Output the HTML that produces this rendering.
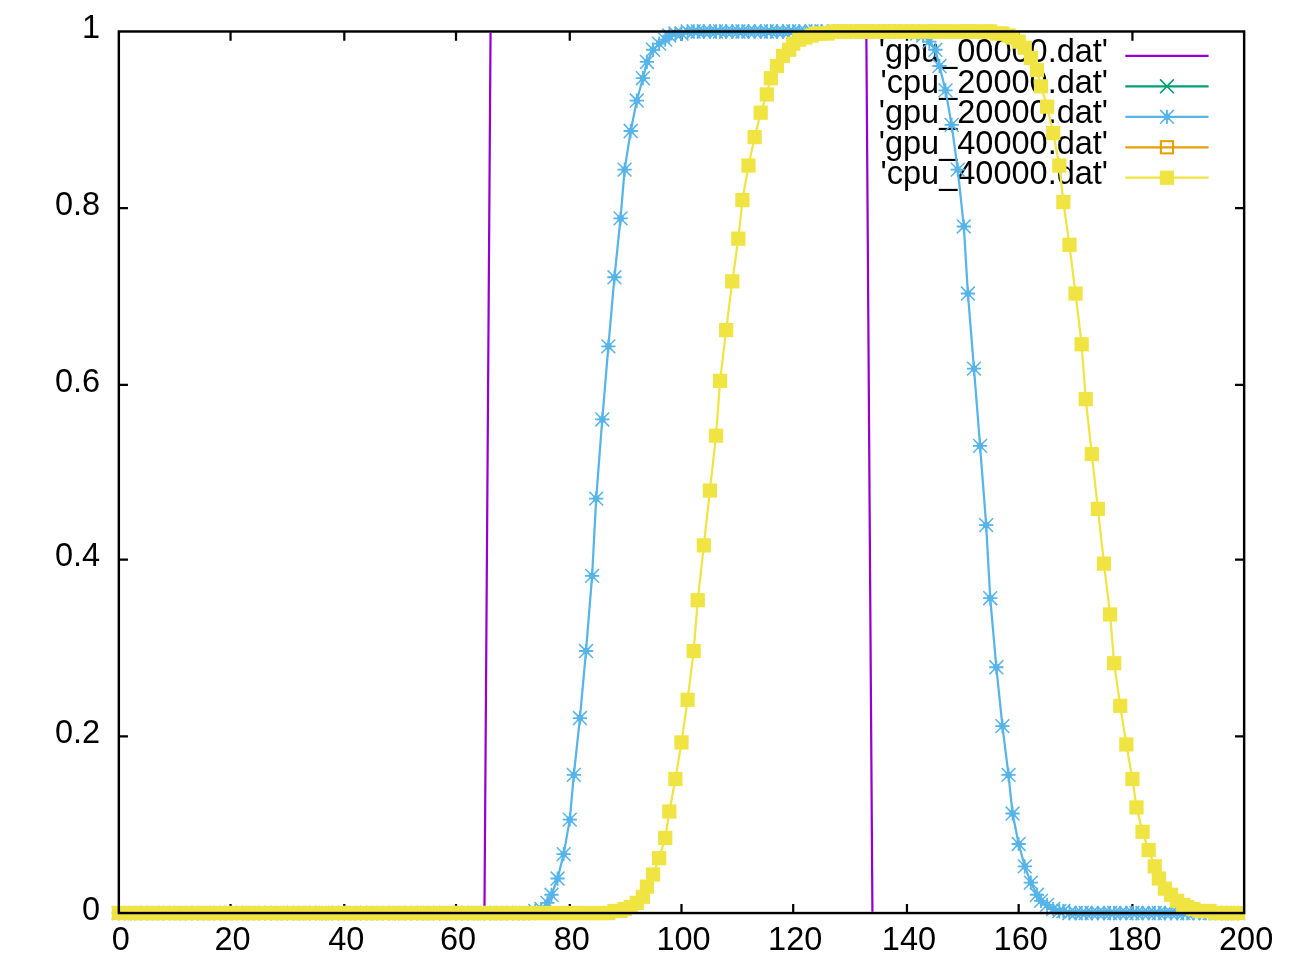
<!DOCTYPE html>
<html lang="en"><head><meta charset="utf-8"><title>plot</title>
<style>
html,body{margin:0;padding:0;background:#fff;}
body{width:1300px;height:975px;overflow:hidden;}
svg{display:block;position:absolute;left:0;top:0;filter:blur(0.45px);}
text{font-family:"Liberation Sans",Arial,sans-serif;font-size:16px;fill:#000;}
.tk{stroke:#000;stroke-width:1.1;fill:none;}
.bd{stroke:#000;stroke-width:1.2;fill:none;}
.ln{fill:none;stroke-width:1.1;stroke-linejoin:round;}
</style></head><body>
<svg width="1300" height="975" viewBox="0 0 640 480">
<defs>
<g id="sq"><rect x="-3.5" y="-3.5" width="7" height="7" fill="#f0e442"/></g>
<g id="st" stroke="#56b4e9" fill="none"><path d="M-3.5,0H3.5M0,-3.5V3.5" stroke-width="0.9"/><path d="M-3.4,-3.4L3.4,3.4M-3.4,3.4L3.4,-3.4" stroke-width="0.75"/><rect x="-1.5" y="-1.5" width="3" height="3" fill="#56b4e9" stroke="none"/></g>
<clipPath id="cp"><rect x="0" y="16.1" width="640" height="432.8"/></clipPath>
</defs>
<rect x="0" y="0" width="640" height="480" fill="#fff"/>
<path class="tk" d="M113.5,449.5V445M113.5,15.5V20M169.5,449.5V445M169.5,15.5V20M224.5,449.5V445M224.5,15.5V20M280.5,449.5V445M280.5,15.5V20M335.5,449.5V445M335.5,15.5V20M390.5,449.5V445M390.5,15.5V20M446.5,449.5V445M446.5,15.5V20M501.5,449.5V445M501.5,15.5V20M557.5,449.5V445M557.5,15.5V20M58.5,362.5H63M612.5,362.5H608M58.5,275.5H63M612.5,275.5H608M58.5,189.5H63M612.5,189.5H608M58.5,102.5H63M612.5,102.5H608"/>
<text x="49.3" y="452.8" text-anchor="end">0</text>
<text x="49.3" y="365.8" text-anchor="end">0.2</text>
<text x="49.3" y="278.8" text-anchor="end">0.4</text>
<text x="49.3" y="192.8" text-anchor="end">0.6</text>
<text x="49.3" y="105.8" text-anchor="end">0.8</text>
<text x="49.3" y="18.8" text-anchor="end">1</text>
<text x="59.5" y="467.9" text-anchor="middle">0</text>
<text x="114.5" y="467.9" text-anchor="middle">20</text>
<text x="170.5" y="467.9" text-anchor="middle">40</text>
<text x="225.5" y="467.9" text-anchor="middle">60</text>
<text x="281.5" y="467.9" text-anchor="middle">80</text>
<text x="336.5" y="467.9" text-anchor="middle">100</text>
<text x="391.5" y="467.9" text-anchor="middle">120</text>
<text x="447.5" y="467.9" text-anchor="middle">140</text>
<text x="502.5" y="467.9" text-anchor="middle">160</text>
<text x="558.5" y="467.9" text-anchor="middle">180</text>
<text x="613.5" y="467.9" text-anchor="middle">200</text>
<text x="545.5" y="30.6" text-anchor="end">'gpu_00000.dat'</text>
<text x="545.5" y="45.6" text-anchor="end">'cpu_20000.dat'</text>
<text x="545.5" y="60.6" text-anchor="end">'gpu_20000.dat'</text>
<text x="545.5" y="75.6" text-anchor="end">'gpu_40000.dat'</text>
<text x="545.5" y="90.6" text-anchor="end">'cpu_40000.dat'</text>
<path class="ln" stroke="#9400d3" d="M554,27.5 H595"/>
<path class="ln" clip-path="url(#cp)" stroke="#9400d3" d="M58.5,449.5L61.5,449.5L64.5,449.5L66.5,449.5L69.5,449.5L72.5,449.5L75.5,449.5L77.5,449.5L80.5,449.5L83.5,449.5L86.5,449.5L88.5,449.5L91.5,449.5L94.5,449.5L97.5,449.5L100.5,449.5L102.5,449.5L105.5,449.5L108.5,449.5L111.5,449.5L113.5,449.5L116.5,449.5L119.5,449.5L122.5,449.5L124.5,449.5L127.5,449.5L130.5,449.5L133.5,449.5L136.5,449.5L138.5,449.5L141.5,449.5L144.5,449.5L147.5,449.5L149.5,449.5L152.5,449.5L155.5,449.5L158.5,449.5L160.5,449.5L163.5,449.5L166.5,449.5L169.5,449.5L172.5,449.5L174.5,449.5L177.5,449.5L180.5,449.5L183.5,449.5L185.5,449.5L188.5,449.5L191.5,449.5L194.5,449.5L196.5,449.5L199.5,449.5L202.5,449.5L205.5,449.5L208.5,449.5L210.5,449.5L213.5,449.5L216.5,449.5L219.5,449.5L221.5,449.5L224.5,449.5L227.5,449.5L230.5,449.5L233.5,449.5L235.5,449.5L238.5,449.5L241.5,15.5L244.5,15.5L246.5,15.5L249.5,15.5L252.5,15.5L255.5,15.5L257.5,15.5L260.5,15.5L263.5,15.5L266.5,15.5L269.5,15.5L271.5,15.5L274.5,15.5L277.5,15.5L280.5,15.5L282.5,15.5L285.5,15.5L288.5,15.5L291.5,15.5L293.5,15.5L296.5,15.5L299.5,15.5L302.5,15.5L305.5,15.5L307.5,15.5L310.5,15.5L313.5,15.5L316.5,15.5L318.5,15.5L321.5,15.5L324.5,15.5L327.5,15.5L329.5,15.5L332.5,15.5L335.5,15.5L338.5,15.5L341.5,15.5L343.5,15.5L346.5,15.5L349.5,15.5L352.5,15.5L354.5,15.5L357.5,15.5L360.5,15.5L363.5,15.5L365.5,15.5L368.5,15.5L371.5,15.5L374.5,15.5L377.5,15.5L379.5,15.5L382.5,15.5L385.5,15.5L388.5,15.5L390.5,15.5L393.5,15.5L396.5,15.5L399.5,15.5L401.5,15.5L404.5,15.5L407.5,15.5L410.5,15.5L413.5,15.5L415.5,15.5L418.5,15.5L421.5,15.5L424.5,15.5L426.5,15.5L429.5,449.5L432.5,449.5L435.5,449.5L437.5,449.5L440.5,449.5L443.5,449.5L446.5,449.5L449.5,449.5L451.5,449.5L454.5,449.5L457.5,449.5L460.5,449.5L462.5,449.5L465.5,449.5L468.5,449.5L471.5,449.5L474.5,449.5L476.5,449.5L479.5,449.5L482.5,449.5L485.5,449.5L487.5,449.5L490.5,449.5L493.5,449.5L496.5,449.5L498.5,449.5L501.5,449.5L504.5,449.5L507.5,449.5L510.5,449.5L512.5,449.5L515.5,449.5L518.5,449.5L521.5,449.5L523.5,449.5L526.5,449.5L529.5,449.5L532.5,449.5L534.5,449.5L537.5,449.5L540.5,449.5L543.5,449.5L546.5,449.5L548.5,449.5L551.5,449.5L554.5,449.5L557.5,449.5L559.5,449.5L562.5,449.5L565.5,449.5L568.5,449.5L570.5,449.5L573.5,449.5L576.5,449.5L579.5,449.5L582.5,449.5L584.5,449.5L587.5,449.5L590.5,449.5L593.5,449.5L595.5,449.5L598.5,449.5L601.5,449.5L604.5,449.5L606.5,449.5L609.5,449.5"/>
<path class="ln" stroke="#009e73" d="M554,42.5 H595"/>
<path fill="none" stroke-width="0.8" stroke="#009e73" d="M571.1,39.1 l6.8,6.8 m-6.8,0 l6.8,-6.8"/>
<path class="ln" stroke="#56b4e9" d="M554,57.5 H595"/>
<use href="#st" x="574.5" y="57.5"/>
<path class="ln" stroke="#56b4e9" d="M58.5,449.5L61.5,449.5L64.5,449.5L66.5,449.5L69.5,449.5L72.5,449.5L75.5,449.5L77.5,449.5L80.5,449.5L83.5,449.5L86.5,449.5L88.5,449.5L91.5,449.5L94.5,449.5L97.5,449.5L100.5,449.5L102.5,449.5L105.5,449.5L108.5,449.5L111.5,449.5L113.5,449.5L116.5,449.5L119.5,449.5L122.5,449.5L124.5,449.5L127.5,449.5L130.5,449.5L133.5,449.5L136.5,449.5L138.5,449.5L141.5,449.5L144.5,449.5L147.5,449.5L149.5,449.5L152.5,449.5L155.5,449.5L158.5,449.5L160.5,449.5L163.5,449.5L166.5,449.5L169.5,449.5L172.5,449.5L174.5,449.5L177.5,449.5L180.5,449.5L183.5,449.5L185.5,449.5L188.5,449.5L191.5,449.5L194.5,449.5L196.5,449.5L199.5,449.5L202.5,449.5L205.5,449.5L208.5,449.5L210.5,449.5L213.5,449.5L216.5,449.5L219.5,449.5L221.5,449.5L224.5,449.5L227.5,449.5L230.5,449.5L233.5,449.5L235.5,449.5L238.5,449.5L241.5,449.5L244.5,449.5L246.5,449.5L249.5,449.5L252.5,449.5L255.5,449.5L257.5,449.5L260.5,449.5L263.5,448.5L266.5,447.5L269.5,444.5L271.5,440.5L274.5,432.5L277.5,420.5L280.5,403.5L282.5,381.5L285.5,353.5L288.5,320.5L291.5,283.5L293.5,245.5L296.5,206.5L299.5,170.5L302.5,136.5L305.5,107.5L307.5,83.5L310.5,64.5L313.5,49.5L316.5,38.5L318.5,30.5L321.5,24.5L324.5,21.5L327.5,19.5L329.5,17.5L332.5,16.5L335.5,16.5L338.5,15.5L341.5,15.5L343.5,15.5L346.5,15.5L349.5,15.5L352.5,15.5L354.5,15.5L357.5,15.5L360.5,15.5L363.5,15.5L365.5,15.5L368.5,15.5L371.5,15.5L374.5,15.5L377.5,15.5L379.5,15.5L382.5,15.5L385.5,15.5L388.5,15.5L390.5,15.5L393.5,15.5L396.5,15.5L399.5,15.5L401.5,15.5L404.5,15.5L407.5,15.5L410.5,15.5L413.5,15.5L415.5,15.5L418.5,15.5L421.5,15.5L424.5,15.5L426.5,15.5L429.5,15.5L432.5,15.5L435.5,15.5L437.5,15.5L440.5,15.5L443.5,15.5L446.5,15.5L449.5,15.5L451.5,16.5L454.5,17.5L457.5,20.5L460.5,24.5L462.5,32.5L465.5,44.5L468.5,61.5L471.5,83.5L474.5,111.5L476.5,144.5L479.5,181.5L482.5,219.5L485.5,258.5L487.5,294.5L490.5,328.5L493.5,357.5L496.5,381.5L498.5,400.5L501.5,415.5L504.5,426.5L507.5,434.5L510.5,440.5L512.5,443.5L515.5,445.5L518.5,447.5L521.5,448.5L523.5,448.5L526.5,449.5L529.5,449.5L532.5,449.5L534.5,449.5L537.5,449.5L540.5,449.5L543.5,449.5L546.5,449.5L548.5,449.5L551.5,449.5L554.5,449.5L557.5,449.5L559.5,449.5L562.5,449.5L565.5,449.5L568.5,449.5L570.5,449.5L573.5,449.5L576.5,449.5L579.5,449.5L582.5,449.5L584.5,449.5L587.5,449.5L590.5,449.5L593.5,449.5L595.5,449.5L598.5,449.5L601.5,449.5L604.5,449.5L606.5,449.5L609.5,449.5"/>
<g><use href="#st" x="58.5" y="449.5"/><use href="#st" x="61.5" y="449.5"/><use href="#st" x="64.5" y="449.5"/><use href="#st" x="66.5" y="449.5"/><use href="#st" x="69.5" y="449.5"/><use href="#st" x="72.5" y="449.5"/><use href="#st" x="75.5" y="449.5"/><use href="#st" x="77.5" y="449.5"/><use href="#st" x="80.5" y="449.5"/><use href="#st" x="83.5" y="449.5"/><use href="#st" x="86.5" y="449.5"/><use href="#st" x="88.5" y="449.5"/><use href="#st" x="91.5" y="449.5"/><use href="#st" x="94.5" y="449.5"/><use href="#st" x="97.5" y="449.5"/><use href="#st" x="100.5" y="449.5"/><use href="#st" x="102.5" y="449.5"/><use href="#st" x="105.5" y="449.5"/><use href="#st" x="108.5" y="449.5"/><use href="#st" x="111.5" y="449.5"/><use href="#st" x="113.5" y="449.5"/><use href="#st" x="116.5" y="449.5"/><use href="#st" x="119.5" y="449.5"/><use href="#st" x="122.5" y="449.5"/><use href="#st" x="124.5" y="449.5"/><use href="#st" x="127.5" y="449.5"/><use href="#st" x="130.5" y="449.5"/><use href="#st" x="133.5" y="449.5"/><use href="#st" x="136.5" y="449.5"/><use href="#st" x="138.5" y="449.5"/><use href="#st" x="141.5" y="449.5"/><use href="#st" x="144.5" y="449.5"/><use href="#st" x="147.5" y="449.5"/><use href="#st" x="149.5" y="449.5"/><use href="#st" x="152.5" y="449.5"/><use href="#st" x="155.5" y="449.5"/><use href="#st" x="158.5" y="449.5"/><use href="#st" x="160.5" y="449.5"/><use href="#st" x="163.5" y="449.5"/><use href="#st" x="166.5" y="449.5"/><use href="#st" x="169.5" y="449.5"/><use href="#st" x="172.5" y="449.5"/><use href="#st" x="174.5" y="449.5"/><use href="#st" x="177.5" y="449.5"/><use href="#st" x="180.5" y="449.5"/><use href="#st" x="183.5" y="449.5"/><use href="#st" x="185.5" y="449.5"/><use href="#st" x="188.5" y="449.5"/><use href="#st" x="191.5" y="449.5"/><use href="#st" x="194.5" y="449.5"/><use href="#st" x="196.5" y="449.5"/><use href="#st" x="199.5" y="449.5"/><use href="#st" x="202.5" y="449.5"/><use href="#st" x="205.5" y="449.5"/><use href="#st" x="208.5" y="449.5"/><use href="#st" x="210.5" y="449.5"/><use href="#st" x="213.5" y="449.5"/><use href="#st" x="216.5" y="449.5"/><use href="#st" x="219.5" y="449.5"/><use href="#st" x="221.5" y="449.5"/><use href="#st" x="224.5" y="449.5"/><use href="#st" x="227.5" y="449.5"/><use href="#st" x="230.5" y="449.5"/><use href="#st" x="233.5" y="449.5"/><use href="#st" x="235.5" y="449.5"/><use href="#st" x="238.5" y="449.5"/><use href="#st" x="241.5" y="449.5"/><use href="#st" x="244.5" y="449.5"/><use href="#st" x="246.5" y="449.5"/><use href="#st" x="249.5" y="449.5"/><use href="#st" x="252.5" y="449.5"/><use href="#st" x="255.5" y="449.5"/><use href="#st" x="257.5" y="449.5"/><use href="#st" x="260.5" y="449.5"/><use href="#st" x="263.5" y="448.5"/><use href="#st" x="266.5" y="447.5"/><use href="#st" x="269.5" y="444.5"/><use href="#st" x="271.5" y="440.5"/><use href="#st" x="274.5" y="432.5"/><use href="#st" x="277.5" y="420.5"/><use href="#st" x="280.5" y="403.5"/><use href="#st" x="282.5" y="381.5"/><use href="#st" x="285.5" y="353.5"/><use href="#st" x="288.5" y="320.5"/><use href="#st" x="291.5" y="283.5"/><use href="#st" x="293.5" y="245.5"/><use href="#st" x="296.5" y="206.5"/><use href="#st" x="299.5" y="170.5"/><use href="#st" x="302.5" y="136.5"/><use href="#st" x="305.5" y="107.5"/><use href="#st" x="307.5" y="83.5"/><use href="#st" x="310.5" y="64.5"/><use href="#st" x="313.5" y="49.5"/><use href="#st" x="316.5" y="38.5"/><use href="#st" x="318.5" y="30.5"/><use href="#st" x="321.5" y="24.5"/><use href="#st" x="324.5" y="21.5"/><use href="#st" x="327.5" y="19.5"/><use href="#st" x="329.5" y="17.5"/><use href="#st" x="332.5" y="16.5"/><use href="#st" x="335.5" y="16.5"/><use href="#st" x="338.5" y="15.5"/><use href="#st" x="341.5" y="15.5"/><use href="#st" x="343.5" y="15.5"/><use href="#st" x="346.5" y="15.5"/><use href="#st" x="349.5" y="15.5"/><use href="#st" x="352.5" y="15.5"/><use href="#st" x="354.5" y="15.5"/><use href="#st" x="357.5" y="15.5"/><use href="#st" x="360.5" y="15.5"/><use href="#st" x="363.5" y="15.5"/><use href="#st" x="365.5" y="15.5"/><use href="#st" x="368.5" y="15.5"/><use href="#st" x="371.5" y="15.5"/><use href="#st" x="374.5" y="15.5"/><use href="#st" x="377.5" y="15.5"/><use href="#st" x="379.5" y="15.5"/><use href="#st" x="382.5" y="15.5"/><use href="#st" x="385.5" y="15.5"/><use href="#st" x="388.5" y="15.5"/><use href="#st" x="390.5" y="15.5"/><use href="#st" x="393.5" y="15.5"/><use href="#st" x="396.5" y="15.5"/><use href="#st" x="399.5" y="15.5"/><use href="#st" x="401.5" y="15.5"/><use href="#st" x="404.5" y="15.5"/><use href="#st" x="407.5" y="15.5"/><use href="#st" x="410.5" y="15.5"/><use href="#st" x="413.5" y="15.5"/><use href="#st" x="415.5" y="15.5"/><use href="#st" x="418.5" y="15.5"/><use href="#st" x="421.5" y="15.5"/><use href="#st" x="424.5" y="15.5"/><use href="#st" x="426.5" y="15.5"/><use href="#st" x="429.5" y="15.5"/><use href="#st" x="432.5" y="15.5"/><use href="#st" x="435.5" y="15.5"/><use href="#st" x="437.5" y="15.5"/><use href="#st" x="440.5" y="15.5"/><use href="#st" x="443.5" y="15.5"/><use href="#st" x="446.5" y="15.5"/><use href="#st" x="449.5" y="15.5"/><use href="#st" x="451.5" y="16.5"/><use href="#st" x="454.5" y="17.5"/><use href="#st" x="457.5" y="20.5"/><use href="#st" x="460.5" y="24.5"/><use href="#st" x="462.5" y="32.5"/><use href="#st" x="465.5" y="44.5"/><use href="#st" x="468.5" y="61.5"/><use href="#st" x="471.5" y="83.5"/><use href="#st" x="474.5" y="111.5"/><use href="#st" x="476.5" y="144.5"/><use href="#st" x="479.5" y="181.5"/><use href="#st" x="482.5" y="219.5"/><use href="#st" x="485.5" y="258.5"/><use href="#st" x="487.5" y="294.5"/><use href="#st" x="490.5" y="328.5"/><use href="#st" x="493.5" y="357.5"/><use href="#st" x="496.5" y="381.5"/><use href="#st" x="498.5" y="400.5"/><use href="#st" x="501.5" y="415.5"/><use href="#st" x="504.5" y="426.5"/><use href="#st" x="507.5" y="434.5"/><use href="#st" x="510.5" y="440.5"/><use href="#st" x="512.5" y="443.5"/><use href="#st" x="515.5" y="445.5"/><use href="#st" x="518.5" y="447.5"/><use href="#st" x="521.5" y="448.5"/><use href="#st" x="523.5" y="448.5"/><use href="#st" x="526.5" y="449.5"/><use href="#st" x="529.5" y="449.5"/><use href="#st" x="532.5" y="449.5"/><use href="#st" x="534.5" y="449.5"/><use href="#st" x="537.5" y="449.5"/><use href="#st" x="540.5" y="449.5"/><use href="#st" x="543.5" y="449.5"/><use href="#st" x="546.5" y="449.5"/><use href="#st" x="548.5" y="449.5"/><use href="#st" x="551.5" y="449.5"/><use href="#st" x="554.5" y="449.5"/><use href="#st" x="557.5" y="449.5"/><use href="#st" x="559.5" y="449.5"/><use href="#st" x="562.5" y="449.5"/><use href="#st" x="565.5" y="449.5"/><use href="#st" x="568.5" y="449.5"/><use href="#st" x="570.5" y="449.5"/><use href="#st" x="573.5" y="449.5"/><use href="#st" x="576.5" y="449.5"/><use href="#st" x="579.5" y="449.5"/><use href="#st" x="582.5" y="449.5"/><use href="#st" x="584.5" y="449.5"/><use href="#st" x="587.5" y="449.5"/><use href="#st" x="590.5" y="449.5"/><use href="#st" x="593.5" y="449.5"/><use href="#st" x="595.5" y="449.5"/><use href="#st" x="598.5" y="449.5"/><use href="#st" x="601.5" y="449.5"/><use href="#st" x="604.5" y="449.5"/><use href="#st" x="606.5" y="449.5"/><use href="#st" x="609.5" y="449.5"/></g>
<path class="ln" stroke="#e69f00" d="M554,72.5 H595"/>
<rect x="571.5" y="69.5" width="6" height="6" fill="none" stroke="#e69f00" stroke-width="1"/>
<path class="ln" stroke="#f0e442" d="M554,87.5 H595"/>
<use href="#sq" x="574.5" y="87.5"/>
<path class="ln" stroke="#f0e442" d="M58.5,449.5L61.5,449.5L64.5,449.5L66.5,449.5L69.5,449.5L72.5,449.5L75.5,449.5L77.5,449.5L80.5,449.5L83.5,449.5L86.5,449.5L88.5,449.5L91.5,449.5L94.5,449.5L97.5,449.5L100.5,449.5L102.5,449.5L105.5,449.5L108.5,449.5L111.5,449.5L113.5,449.5L116.5,449.5L119.5,449.5L122.5,449.5L124.5,449.5L127.5,449.5L130.5,449.5L133.5,449.5L136.5,449.5L138.5,449.5L141.5,449.5L144.5,449.5L147.5,449.5L149.5,449.5L152.5,449.5L155.5,449.5L158.5,449.5L160.5,449.5L163.5,449.5L166.5,449.5L169.5,449.5L172.5,449.5L174.5,449.5L177.5,449.5L180.5,449.5L183.5,449.5L185.5,449.5L188.5,449.5L191.5,449.5L194.5,449.5L196.5,449.5L199.5,449.5L202.5,449.5L205.5,449.5L208.5,449.5L210.5,449.5L213.5,449.5L216.5,449.5L219.5,449.5L221.5,449.5L224.5,449.5L227.5,449.5L230.5,449.5L233.5,449.5L235.5,449.5L238.5,449.5L241.5,449.5L244.5,449.5L246.5,449.5L249.5,449.5L252.5,449.5L255.5,449.5L257.5,449.5L260.5,449.5L263.5,449.5L266.5,449.5L269.5,449.5L271.5,449.5L274.5,449.5L277.5,449.5L280.5,449.5L282.5,449.5L285.5,449.5L288.5,449.5L291.5,449.5L293.5,449.5L296.5,449.5L299.5,449.5L302.5,448.5L305.5,448.5L307.5,447.5L310.5,446.5L313.5,444.5L316.5,441.5L318.5,436.5L321.5,430.5L324.5,422.5L327.5,412.5L329.5,399.5L332.5,383.5L335.5,365.5L338.5,344.5L341.5,320.5L343.5,295.5L346.5,268.5L349.5,241.5L352.5,214.5L354.5,187.5L357.5,162.5L360.5,138.5L363.5,117.5L365.5,98.5L368.5,81.5L371.5,67.5L374.5,55.5L377.5,46.5L379.5,38.5L382.5,32.5L385.5,27.5L388.5,24.5L390.5,21.5L393.5,19.5L396.5,18.5L399.5,17.5L401.5,16.5L404.5,16.5L407.5,16.5L410.5,15.5L413.5,15.5L415.5,15.5L418.5,15.5L421.5,15.5L424.5,15.5L426.5,15.5L429.5,15.5L432.5,15.5L435.5,15.5L437.5,15.5L440.5,15.5L443.5,15.5L446.5,15.5L449.5,15.5L451.5,15.5L454.5,15.5L457.5,15.5L460.5,15.5L462.5,15.5L465.5,15.5L468.5,15.5L471.5,15.5L474.5,15.5L476.5,15.5L479.5,15.5L482.5,15.5L485.5,15.5L487.5,15.5L490.5,16.5L493.5,16.5L496.5,17.5L498.5,18.5L501.5,20.5L504.5,23.5L507.5,28.5L510.5,34.5L512.5,42.5L515.5,52.5L518.5,65.5L521.5,81.5L523.5,99.5L526.5,120.5L529.5,144.5L532.5,169.5L534.5,196.5L537.5,223.5L540.5,250.5L543.5,277.5L546.5,302.5L548.5,326.5L551.5,347.5L554.5,366.5L557.5,383.5L559.5,397.5L562.5,409.5L565.5,418.5L568.5,426.5L570.5,432.5L573.5,437.5L576.5,440.5L579.5,443.5L582.5,445.5L584.5,446.5L587.5,447.5L590.5,448.5L593.5,448.5L595.5,448.5L598.5,449.5L601.5,449.5L604.5,449.5L606.5,449.5L609.5,449.5"/>
<g><use href="#sq" x="58.5" y="449.5"/><use href="#sq" x="61.5" y="449.5"/><use href="#sq" x="64.5" y="449.5"/><use href="#sq" x="66.5" y="449.5"/><use href="#sq" x="69.5" y="449.5"/><use href="#sq" x="72.5" y="449.5"/><use href="#sq" x="75.5" y="449.5"/><use href="#sq" x="77.5" y="449.5"/><use href="#sq" x="80.5" y="449.5"/><use href="#sq" x="83.5" y="449.5"/><use href="#sq" x="86.5" y="449.5"/><use href="#sq" x="88.5" y="449.5"/><use href="#sq" x="91.5" y="449.5"/><use href="#sq" x="94.5" y="449.5"/><use href="#sq" x="97.5" y="449.5"/><use href="#sq" x="100.5" y="449.5"/><use href="#sq" x="102.5" y="449.5"/><use href="#sq" x="105.5" y="449.5"/><use href="#sq" x="108.5" y="449.5"/><use href="#sq" x="111.5" y="449.5"/><use href="#sq" x="113.5" y="449.5"/><use href="#sq" x="116.5" y="449.5"/><use href="#sq" x="119.5" y="449.5"/><use href="#sq" x="122.5" y="449.5"/><use href="#sq" x="124.5" y="449.5"/><use href="#sq" x="127.5" y="449.5"/><use href="#sq" x="130.5" y="449.5"/><use href="#sq" x="133.5" y="449.5"/><use href="#sq" x="136.5" y="449.5"/><use href="#sq" x="138.5" y="449.5"/><use href="#sq" x="141.5" y="449.5"/><use href="#sq" x="144.5" y="449.5"/><use href="#sq" x="147.5" y="449.5"/><use href="#sq" x="149.5" y="449.5"/><use href="#sq" x="152.5" y="449.5"/><use href="#sq" x="155.5" y="449.5"/><use href="#sq" x="158.5" y="449.5"/><use href="#sq" x="160.5" y="449.5"/><use href="#sq" x="163.5" y="449.5"/><use href="#sq" x="166.5" y="449.5"/><use href="#sq" x="169.5" y="449.5"/><use href="#sq" x="172.5" y="449.5"/><use href="#sq" x="174.5" y="449.5"/><use href="#sq" x="177.5" y="449.5"/><use href="#sq" x="180.5" y="449.5"/><use href="#sq" x="183.5" y="449.5"/><use href="#sq" x="185.5" y="449.5"/><use href="#sq" x="188.5" y="449.5"/><use href="#sq" x="191.5" y="449.5"/><use href="#sq" x="194.5" y="449.5"/><use href="#sq" x="196.5" y="449.5"/><use href="#sq" x="199.5" y="449.5"/><use href="#sq" x="202.5" y="449.5"/><use href="#sq" x="205.5" y="449.5"/><use href="#sq" x="208.5" y="449.5"/><use href="#sq" x="210.5" y="449.5"/><use href="#sq" x="213.5" y="449.5"/><use href="#sq" x="216.5" y="449.5"/><use href="#sq" x="219.5" y="449.5"/><use href="#sq" x="221.5" y="449.5"/><use href="#sq" x="224.5" y="449.5"/><use href="#sq" x="227.5" y="449.5"/><use href="#sq" x="230.5" y="449.5"/><use href="#sq" x="233.5" y="449.5"/><use href="#sq" x="235.5" y="449.5"/><use href="#sq" x="238.5" y="449.5"/><use href="#sq" x="241.5" y="449.5"/><use href="#sq" x="244.5" y="449.5"/><use href="#sq" x="246.5" y="449.5"/><use href="#sq" x="249.5" y="449.5"/><use href="#sq" x="252.5" y="449.5"/><use href="#sq" x="255.5" y="449.5"/><use href="#sq" x="257.5" y="449.5"/><use href="#sq" x="260.5" y="449.5"/><use href="#sq" x="263.5" y="449.5"/><use href="#sq" x="266.5" y="449.5"/><use href="#sq" x="269.5" y="449.5"/><use href="#sq" x="271.5" y="449.5"/><use href="#sq" x="274.5" y="449.5"/><use href="#sq" x="277.5" y="449.5"/><use href="#sq" x="280.5" y="449.5"/><use href="#sq" x="282.5" y="449.5"/><use href="#sq" x="285.5" y="449.5"/><use href="#sq" x="288.5" y="449.5"/><use href="#sq" x="291.5" y="449.5"/><use href="#sq" x="293.5" y="449.5"/><use href="#sq" x="296.5" y="449.5"/><use href="#sq" x="299.5" y="449.5"/><use href="#sq" x="302.5" y="448.5"/><use href="#sq" x="305.5" y="448.5"/><use href="#sq" x="307.5" y="447.5"/><use href="#sq" x="310.5" y="446.5"/><use href="#sq" x="313.5" y="444.5"/><use href="#sq" x="316.5" y="441.5"/><use href="#sq" x="318.5" y="436.5"/><use href="#sq" x="321.5" y="430.5"/><use href="#sq" x="324.5" y="422.5"/><use href="#sq" x="327.5" y="412.5"/><use href="#sq" x="329.5" y="399.5"/><use href="#sq" x="332.5" y="383.5"/><use href="#sq" x="335.5" y="365.5"/><use href="#sq" x="338.5" y="344.5"/><use href="#sq" x="341.5" y="320.5"/><use href="#sq" x="343.5" y="295.5"/><use href="#sq" x="346.5" y="268.5"/><use href="#sq" x="349.5" y="241.5"/><use href="#sq" x="352.5" y="214.5"/><use href="#sq" x="354.5" y="187.5"/><use href="#sq" x="357.5" y="162.5"/><use href="#sq" x="360.5" y="138.5"/><use href="#sq" x="363.5" y="117.5"/><use href="#sq" x="365.5" y="98.5"/><use href="#sq" x="368.5" y="81.5"/><use href="#sq" x="371.5" y="67.5"/><use href="#sq" x="374.5" y="55.5"/><use href="#sq" x="377.5" y="46.5"/><use href="#sq" x="379.5" y="38.5"/><use href="#sq" x="382.5" y="32.5"/><use href="#sq" x="385.5" y="27.5"/><use href="#sq" x="388.5" y="24.5"/><use href="#sq" x="390.5" y="21.5"/><use href="#sq" x="393.5" y="19.5"/><use href="#sq" x="396.5" y="18.5"/><use href="#sq" x="399.5" y="17.5"/><use href="#sq" x="401.5" y="16.5"/><use href="#sq" x="404.5" y="16.5"/><use href="#sq" x="407.5" y="16.5"/><use href="#sq" x="410.5" y="15.5"/><use href="#sq" x="413.5" y="15.5"/><use href="#sq" x="415.5" y="15.5"/><use href="#sq" x="418.5" y="15.5"/><use href="#sq" x="421.5" y="15.5"/><use href="#sq" x="424.5" y="15.5"/><use href="#sq" x="426.5" y="15.5"/><use href="#sq" x="429.5" y="15.5"/><use href="#sq" x="432.5" y="15.5"/><use href="#sq" x="435.5" y="15.5"/><use href="#sq" x="437.5" y="15.5"/><use href="#sq" x="440.5" y="15.5"/><use href="#sq" x="443.5" y="15.5"/><use href="#sq" x="446.5" y="15.5"/><use href="#sq" x="449.5" y="15.5"/><use href="#sq" x="451.5" y="15.5"/><use href="#sq" x="454.5" y="15.5"/><use href="#sq" x="457.5" y="15.5"/><use href="#sq" x="460.5" y="15.5"/><use href="#sq" x="462.5" y="15.5"/><use href="#sq" x="465.5" y="15.5"/><use href="#sq" x="468.5" y="15.5"/><use href="#sq" x="471.5" y="15.5"/><use href="#sq" x="474.5" y="15.5"/><use href="#sq" x="476.5" y="15.5"/><use href="#sq" x="479.5" y="15.5"/><use href="#sq" x="482.5" y="15.5"/><use href="#sq" x="485.5" y="15.5"/><use href="#sq" x="487.5" y="15.5"/><use href="#sq" x="490.5" y="16.5"/><use href="#sq" x="493.5" y="16.5"/><use href="#sq" x="496.5" y="17.5"/><use href="#sq" x="498.5" y="18.5"/><use href="#sq" x="501.5" y="20.5"/><use href="#sq" x="504.5" y="23.5"/><use href="#sq" x="507.5" y="28.5"/><use href="#sq" x="510.5" y="34.5"/><use href="#sq" x="512.5" y="42.5"/><use href="#sq" x="515.5" y="52.5"/><use href="#sq" x="518.5" y="65.5"/><use href="#sq" x="521.5" y="81.5"/><use href="#sq" x="523.5" y="99.5"/><use href="#sq" x="526.5" y="120.5"/><use href="#sq" x="529.5" y="144.5"/><use href="#sq" x="532.5" y="169.5"/><use href="#sq" x="534.5" y="196.5"/><use href="#sq" x="537.5" y="223.5"/><use href="#sq" x="540.5" y="250.5"/><use href="#sq" x="543.5" y="277.5"/><use href="#sq" x="546.5" y="302.5"/><use href="#sq" x="548.5" y="326.5"/><use href="#sq" x="551.5" y="347.5"/><use href="#sq" x="554.5" y="366.5"/><use href="#sq" x="557.5" y="383.5"/><use href="#sq" x="559.5" y="397.5"/><use href="#sq" x="562.5" y="409.5"/><use href="#sq" x="565.5" y="418.5"/><use href="#sq" x="568.5" y="426.5"/><use href="#sq" x="570.5" y="432.5"/><use href="#sq" x="573.5" y="437.5"/><use href="#sq" x="576.5" y="440.5"/><use href="#sq" x="579.5" y="443.5"/><use href="#sq" x="582.5" y="445.5"/><use href="#sq" x="584.5" y="446.5"/><use href="#sq" x="587.5" y="447.5"/><use href="#sq" x="590.5" y="448.5"/><use href="#sq" x="593.5" y="448.5"/><use href="#sq" x="595.5" y="448.5"/><use href="#sq" x="598.5" y="449.5"/><use href="#sq" x="601.5" y="449.5"/><use href="#sq" x="604.5" y="449.5"/><use href="#sq" x="606.5" y="449.5"/><use href="#sq" x="609.5" y="449.5"/></g>
<rect class="bd" x="58.5" y="15.5" width="554" height="434"/>
</svg>
</body></html>
